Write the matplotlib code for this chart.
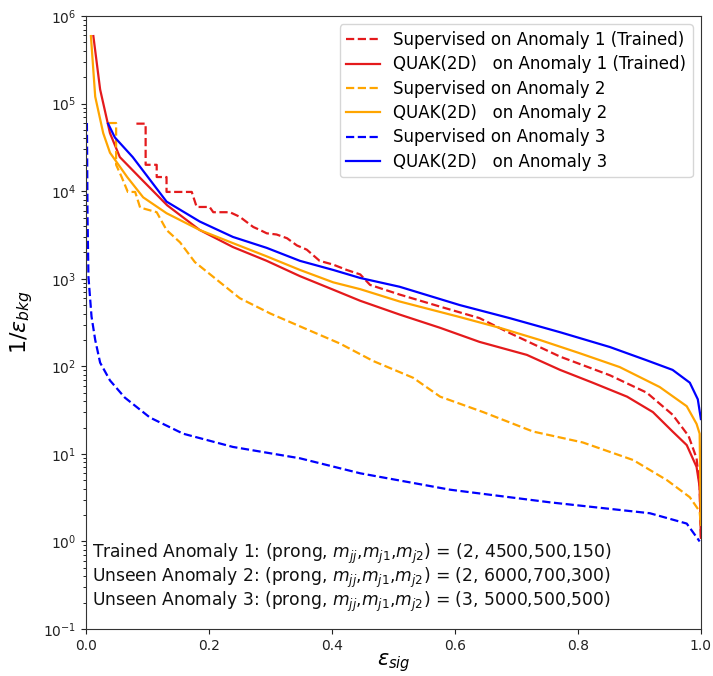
import matplotlib
matplotlib.use("Agg")
import matplotlib.pyplot as plt

plt.rcParams['mathtext.fontset'] = 'dejavusans'
plt.rcParams['font.family'] = ['DejaVu Sans']

# Signal efficiency vs. background rejection (1/eps_bkg) for each tagger/anomaly
sup1_x = [0.082, 0.097, 0.097, 0.115, 0.115, 0.131, 0.131, 0.172, 0.180, 0.201, 0.207,
          0.234, 0.250, 0.272, 0.283, 0.294, 0.310, 0.327, 0.343, 0.359, 0.380,
          0.402, 0.424, 0.446, 0.462, 0.510, 0.576, 0.640, 0.689, 0.771, 0.852,
          0.912, 0.954, 0.980, 0.993, 0.998, 1.000]
sup1_y = [5.9e4, 5.9e4, 2.0e4, 2.0e4, 1.45e4, 1.45e4, 9.8e3, 9.8e3, 6.6e3, 6.6e3, 5.75e3,
          5.75e3, 5.1e3, 3.9e3, 3.6e3, 3.3e3, 3.2e3, 2.9e3, 2.4e3, 2.15e3, 1.6e3,
          1.45e3, 1.26e3, 1.12e3, 850, 660, 480, 355, 240, 129, 79,
          50, 28, 16, 8.9, 4.2, 1.1]

quak1_x = [0.012, 0.023, 0.039, 0.055, 0.091, 0.132, 0.185, 0.239, 0.294, 0.348,
           0.400, 0.446, 0.510, 0.576, 0.640, 0.717, 0.771, 0.824, 0.880, 0.922,
           0.954, 0.977, 0.993, 0.998, 1.000]
quak1_y = [5.9e5, 1.45e5, 4.6e4, 2.45e4, 1.35e4, 6.9e3, 3.6e3, 2.3e3, 1.6e3, 1.07e3,
           760, 560, 390, 275, 190, 135, 91, 65, 45, 30,
           18, 12.6, 7.1, 4.2, 1.1]

sup2_x = [0.037, 0.049, 0.049, 0.058, 0.068, 0.080, 0.088, 0.115, 0.131, 0.153,
          0.177, 0.207, 0.250, 0.300, 0.360, 0.413, 0.467, 0.532, 0.576, 0.646,
          0.727, 0.808, 0.890, 0.945, 0.982, 0.998, 1.000]
sup2_y = [6.0e4, 6.0e4, 2.0e4, 1.45e4, 9.8e3, 9.8e3, 6.5e3, 5.75e3, 3.6e3, 2.6e3,
          1.55e3, 1.05e3, 600, 400, 263, 182, 115, 74, 45, 30,
          18, 13.5, 8.5, 5.0, 3.2, 2.2, 1.5]

quak2_x = [0.008, 0.015, 0.028, 0.039, 0.067, 0.093, 0.131, 0.185, 0.239, 0.294,
           0.348, 0.402, 0.446, 0.510, 0.608, 0.673, 0.738, 0.803, 0.868, 0.933,
           0.977, 0.993, 0.998, 1.000]
quak2_y = [5.9e5, 1.2e5, 4.6e4, 2.75e4, 1.45e4, 8.5e3, 5.6e3, 3.6e3, 2.55e3, 1.8e3,
           1.26e3, 910, 760, 550, 365, 275, 200, 141, 98, 58,
           35, 22, 17, 1.6]

sup3_x = [0.0015, 0.002, 0.0025, 0.004, 0.009, 0.015, 0.023, 0.039, 0.063, 0.104,
          0.158, 0.239, 0.348, 0.446, 0.592, 0.754, 0.917, 0.977, 0.998]
sup3_y = [6.0e4, 1.9e4, 5.1e3, 1.05e3, 370, 200, 110, 69, 44, 26,
          17, 12, 8.9, 6.0, 3.9, 2.8, 2.1, 1.6, 1.0]

quak3_x = [0.036, 0.047, 0.076, 0.131, 0.185, 0.239, 0.294, 0.348, 0.402, 0.446,
           0.510, 0.608, 0.689, 0.771, 0.852, 0.912, 0.954, 0.982, 0.995, 1.000]
quak3_y = [5.9e4, 4.1e4, 2.45e4, 7.6e3, 4.5e3, 3.0e3, 2.25e3, 1.6e3, 1.26e3, 1.02e3,
           810, 500, 355, 245, 166, 117, 91, 65, 42, 25]

labels = ["Supervised on Anomaly 1 (Trained)", "QUAK(2D)   on Anomaly 1 (Trained)",
          "Supervised on Anomaly 2", "QUAK(2D)   on Anomaly 2",
          "Supervised on Anomaly 3", "QUAK(2D)   on Anomaly 3"]

notes = [
    r"Trained Anomaly 1: (prong, $m_{jj}$,$m_{j1}$,$m_{j2}$) = (2, 4500,500,150)",
    r"Unseen Anomaly 2: (prong, $m_{jj}$,$m_{j1}$,$m_{j2}$) = (2, 6000,700,300)",
    r"Unseen Anomaly 3: (prong, $m_{jj}$,$m_{j1}$,$m_{j2}$) = (3, 5000,500,500)",
]

red, orange, blue = '#e41a1c', '#ffa500', '#0000ff'

fig = plt.figure(figsize=(7.13, 6.76), dpi=100)
ax = fig.add_axes([0.1206, 0.0695, 0.8624, 0.9068])

ax.plot(sup1_x, sup1_y, '--', color=red, lw=1.6, label=labels[0])
ax.plot(quak1_x, quak1_y, '-', color=red, lw=1.6, label=labels[1])
ax.plot(sup2_x, sup2_y, '--', color=orange, lw=1.6, label=labels[2])
ax.plot(quak2_x, quak2_y, '-', color=orange, lw=1.6, label=labels[3])
ax.plot(sup3_x, sup3_y, '--', color=blue, lw=1.6, label=labels[4])
ax.plot(quak3_x, quak3_y, '-', color=blue, lw=1.6, label=labels[5])

ax.set_yscale('log')
ax.set_xlim(0, 1)
ax.set_ylim(1e-1, 1e6)
ax.set_xticks([0.0, 0.2, 0.4, 0.6, 0.8, 1.0])
ax.tick_params(axis='both', labelsize=10, colors='#222222')
for s in ax.spines.values():
    s.set_color('#333333')

ax.set_xlabel(r'$\varepsilon_{sig}$', fontsize=15, labelpad=-1)
ax.set_ylabel(r'$1/\varepsilon_{bkg}$', fontsize=16, labelpad=6)

ax.legend(loc='upper right', fontsize=12, handlelength=2.0,
          borderaxespad=0.5, labelspacing=0.38, framealpha=0.8)

for i, t in enumerate(notes):
    ax.text(0.01, 0.122 - i * 0.039, t, transform=ax.transAxes,
            fontsize=12.3, va='center', ha='left', color='#111111')

fig.savefig('out.png', dpi=100)
